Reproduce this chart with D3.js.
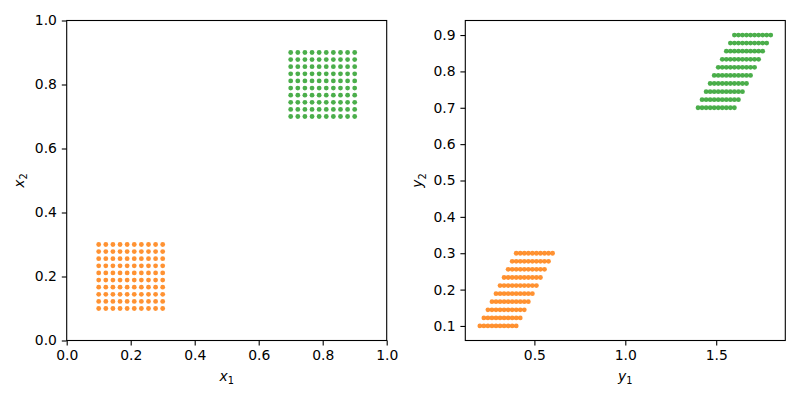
<!DOCTYPE html>
<html>
<head>
<meta charset="utf-8">
<script src="https://cdn.jsdelivr.net/npm/d3@7"></script>
<style>
  body { margin: 0; background: #fff; }
  svg { font-family: "DejaVu Sans", sans-serif; }
</style>
</head>
<body>
<div id="chart"></div>
<script>
// valori della griglia (10 punti per lato)
const gridLow = [0.1, 0.1222, 0.1444, 0.1667, 0.1889, 0.2111, 0.2333, 0.2556, 0.2778, 0.3];
const gridHigh = [0.7, 0.7222, 0.7444, 0.7667, 0.7889, 0.8111, 0.8333, 0.8556, 0.8778, 0.9];
const leftTicks = [0.0, 0.2, 0.4, 0.6, 0.8, 1.0];
const rightXTicks = [0.5, 1.0, 1.5];
const rightYTicks = [0.1, 0.2, 0.3, 0.4, 0.5, 0.6, 0.7, 0.8, 0.9];

const orange = "#ff7f0e";
const green = "#2ca02c";

// punti della griglia
function gridPoints(vals) {
    const pts = [];
    vals.forEach(b => vals.forEach(a => pts.push({x1: a, x2: b})));
    return pts;
}
const groups = [
    {color: orange, pts: gridPoints(gridLow)},
    {color: green, pts: gridPoints(gridHigh)}
];

const svg = d3.select("#chart").append("svg")
    .attr("width", 800).attr("height", 400);

const fontSize = 13.9;

function drawPanel(cfg) {
    const g = svg.append("g");
    const x = d3.scaleLinear().domain(cfg.xDomain).range([cfg.left, cfg.right]);
    const y = d3.scaleLinear().domain(cfg.yDomain).range([cfg.bottom, cfg.top]);

    // punti
    groups.forEach(grp => {
        g.append("g").selectAll("circle")
            .data(grp.pts)
            .join("circle")
            .attr("cx", d => x(cfg.fx(d)))
            .attr("cy", d => y(cfg.fy(d)))
            .attr("r", 2.4)
            .attr("fill", grp.color)
            .attr("fill-opacity", 0.85);
    });

    // assi
    const xAxis = d3.axisBottom(x).tickValues(cfg.xTicks).tickFormat(d3.format(".1f"))
        .tickSizeInner(4.9).tickSizeOuter(0).tickPadding(4.9);
    const yAxis = d3.axisLeft(y).tickValues(cfg.yTicks).tickFormat(d3.format(".1f"))
        .tickSizeInner(4.9).tickSizeOuter(0).tickPadding(4.9);

    const gx = g.append("g").attr("transform", `translate(0,${cfg.bottom})`).call(xAxis);
    const gy = g.append("g").attr("transform", `translate(${cfg.left},0)`).call(yAxis);
    [gx, gy].forEach(a => {
        a.select(".domain").remove();
        a.selectAll("line").attr("stroke", "#000").attr("stroke-width", 1.1);
        a.selectAll("text").attr("fill", "#000")
            .style("font-size", fontSize + "px")
            .style("font-family", "DejaVu Sans, sans-serif");
    });

    // cornice
    g.append("rect")
        .attr("x", cfg.left).attr("y", cfg.top)
        .attr("width", cfg.right - cfg.left).attr("height", cfg.bottom - cfg.top)
        .attr("fill", "none").attr("stroke", "#000").attr("stroke-width", 1.1);

    // etichette
    const xl = g.append("text")
        .attr("x", (cfg.left + cfg.right) / 2).attr("y", cfg.bottom + 40)
        .attr("text-anchor", "middle")
        .style("font-size", fontSize + "px");
    xl.append("tspan").attr("font-style", "italic").text(cfg.xLabel);
    xl.append("tspan").attr("dy", 3.5).style("font-size", "9.8px").text("1");

    const cy = (cfg.top + cfg.bottom) / 2;
    const yl = g.append("text")
        .attr("transform", `translate(${cfg.left - cfg.yLabelOff},${cy}) rotate(-90)`)
        .attr("text-anchor", "middle")
        .style("font-size", fontSize + "px");
    yl.append("tspan").attr("font-style", "italic").text(cfg.yLabel);
    yl.append("tspan").attr("dy", 3.5).style("font-size", "9.8px").text("2");
}

drawPanel({
    left: 66.7, right: 386.7, top: 20.5, bottom: 340.5,
    xDomain: [0, 1], yDomain: [0, 1],
    xTicks: leftTicks, yTicks: leftTicks,
    fx: d => d.x1, fy: d => d.x2,
    xLabel: "x", yLabel: "x", yLabelOff: 43
});

drawPanel({
    left: 465.3, right: 785.3, top: 20.5, bottom: 340.5,
    xDomain: [0.12, 1.88], yDomain: [0.06, 0.94],
    xTicks: rightXTicks, yTicks: rightYTicks,
    fx: d => d.x1 + d.x2, fy: d => d.x2,
    xLabel: "y", yLabel: "y", yLabelOff: 43
});
</script>
</body>
</html>
